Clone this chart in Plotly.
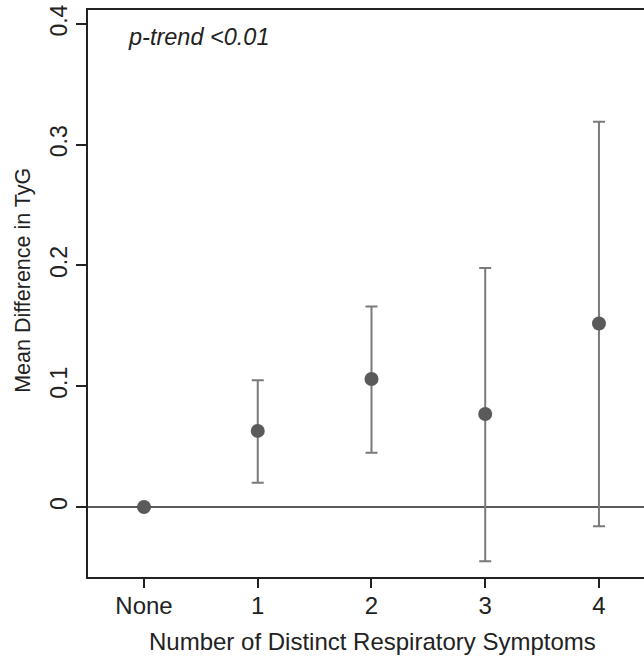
import plotly.graph_objects as go

categories = ["None", "1", "2", "3", "4"]
x_pos = [0, 1, 2, 3, 4]
mean_diff = [0.0, 0.063, 0.106, 0.077, 0.152]
ci_low = [0.0, 0.020, 0.045, -0.045, -0.016]
ci_high = [0.0, 0.105, 0.166, 0.198, 0.319]
y_ticks = [0, 0.1, 0.2, 0.3, 0.4]
y_tick_labels = ["0", "0.1", "0.2", "0.3", "0.4"]

err_plus = [h - m for h, m in zip(ci_high, mean_diff)]
err_minus = [m - l for m, l in zip(mean_diff, ci_low)]

FONT = "Liberation Sans, Arial"

fig = go.Figure()
fig.add_shape(type="line", xref="paper", yref="y", x0=0, x1=1, y0=0, y1=0,
              line=dict(color="#5a5a5a", width=2), layer="below")
fig.add_trace(go.Scatter(
    x=x_pos, y=mean_diff, mode="markers",
    marker=dict(size=14, color="#5a5a5a"),
    error_y=dict(type="data", symmetric=False, array=err_plus, arrayminus=err_minus,
                 color="#7a7a7a", thickness=2, width=6),
    showlegend=False, hoverinfo="skip",
))

fig.add_annotation(x=0.068, y=0.389, xref="paper", yref="y", text="<i>p-trend <0.01</i>",
                   showarrow=False, xanchor="left", yanchor="middle",
                   font=dict(family=FONT, size=23.5, color="#222"))
# axis titles
fig.add_annotation(x=-0.117, y=0.524, xref="paper", yref="paper", text="Mean Difference in TyG",
                   textangle=-90, showarrow=False, xanchor="center", yanchor="middle",
                   font=dict(family=FONT, size=21.5, color="#222"))
fig.add_annotation(x=0.511, y=-0.113, xref="paper", yref="paper",
                   text="Number of Distinct Respiratory Symptoms",
                   showarrow=False, xanchor="center", yanchor="middle",
                   font=dict(family=FONT, size=24, color="#222"))

fig.update_layout(
    width=644, height=656,
    margin=dict(l=88, r=0, t=10, b=79),
    plot_bgcolor="white", paper_bgcolor="white",
    font=dict(family=FONT, color="#222"),
    xaxis=dict(range=[-0.4925, 4.396], tickvals=x_pos, ticktext=categories,
               showline=True, linecolor="#222", linewidth=2, mirror=True,
               ticks="outside", ticklen=9, tickwidth=2, tickcolor="#222",
               ticklabelstandoff=-3,
               showgrid=False, zeroline=False, tickfont=dict(size=24)),
    yaxis=dict(range=[-0.058, 0.4116], tickvals=y_ticks, ticktext=y_tick_labels,
               showline=True, linecolor="#222", linewidth=2, mirror=False,
               ticks="outside", ticklen=10, tickwidth=2, tickcolor="#222",
               tickangle=-90, showgrid=False, zeroline=False, tickfont=dict(size=23)),
)

fig.write_html("out.html", config={"displayModeBar": False},
               post_script="document.body.style.margin='0px';")
